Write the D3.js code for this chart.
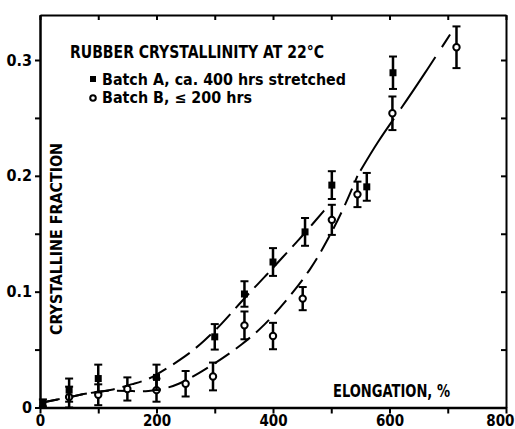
<!DOCTYPE html>
<html>
<head>
<meta charset="utf-8">
<script src="https://cdn.jsdelivr.net/npm/d3@7"></script>
<style>
  body { margin: 0; background: #fff; }
  svg text { font-family: "Liberation Sans Narrow", "DejaVu Sans Condensed", sans-serif; font-weight: bold; fill: #000; }
</style>
</head>
<body>
<script>
// Rubber crystallinity vs elongation

// Batch A (filled squares)
var elongA = [5, 50, 100, 200, 300, 351, 400, 455, 501, 561, 606];
var fracA  = [0.004, 0.015, 0.025, 0.026, 0.061, 0.098, 0.1256, 0.1516, 0.192, 0.1905, 0.289];
var errA   = [0.003, 0.010, 0.012, 0.011, 0.011, 0.011, 0.012, 0.012, 0.012, 0.012, 0.014];

// Batch B (open circles)
var elongB = [50, 100, 150, 200, 250, 297, 351, 400, 451, 501, 545, 605, 715];
var fracB  = [0.009, 0.011, 0.016, 0.015, 0.0205, 0.0268, 0.0709, 0.0617, 0.094, 0.162, 0.184, 0.254, 0.311];
var errB   = [0.009, 0.009, 0.010, 0.010, 0.011, 0.012, 0.012, 0.0114, 0.010, 0.013, 0.011, 0.0145, 0.018];

// hand drawn fit curves
var curveAx = [0, 37, 63, 92, 125, 160, 186, 212, 250, 280, 312, 343, 369, 392, 415, 445, 469, 491];
var curveAy = [0.004, 0.0075, 0.0104, 0.0132, 0.015, 0.0205, 0.024, 0.032, 0.044, 0.0565, 0.072, 0.09, 0.104, 0.116, 0.129, 0.145, 0.159, 0.172];
var curveBx = [0, 37, 63, 92, 125, 160, 186, 212, 237, 275, 312, 346, 386, 426, 466, 492, 520, 545, 580, 620, 660, 704];
var curveBy = [0.004, 0.0075, 0.0104, 0.0132, 0.015, 0.014, 0.014, 0.016, 0.0196, 0.03, 0.042, 0.054, 0.071, 0.094, 0.12, 0.143, 0.170, 0.200, 0.230, 0.258, 0.288, 0.322];

var xTicks = [0, 100, 200, 300, 400, 500, 600, 700, 800];
var yTicks = [0, 0.05, 0.1, 0.15, 0.2, 0.25, 0.3];

var svgWidth = 515, svgHeight = 429;
var margin = {top: 15, right: 9, bottom: 21.5, left: 40},
    width = svgWidth - margin.left - margin.right,
    height = svgHeight - margin.top - margin.bottom;

var svg = d3.select("body").append("svg").attr("width", svgWidth).attr("height", svgHeight);
var g = svg.append("g").attr("transform", `translate(${margin.left},${margin.top})`);

var x = d3.scaleLinear().domain([0, 800]).range([0, width]);
var yTop = 0.3 * height / (height - 45);
var y = d3.scaleLinear().domain([0, yTop]).range([height, 0]);

var fmtX = function(d) { return d % 200 === 0 ? d : ""; };
var fmtY = function(d) { return [0, 0.1, 0.2, 0.3].indexOf(d) >= 0 ? (d === 0 ? "0" : d3.format(".1f")(d)) : ""; };

function styleAxis(sel, w, fs) {
  sel.select(".domain").attr("stroke-width", w);
  sel.selectAll(".tick line").attr("stroke-width", 2);
  sel.selectAll(".tick text").attr("font-size", fs).attr("font-family", null).style("font-weight", "bold");
}

var xAxisG = g.append("g").attr("transform", `translate(0,${height})`)
  .call(d3.axisBottom(x).tickValues(xTicks).tickFormat(fmtX).tickSize(6).tickSizeOuter(0).tickPadding(2))
  .call(styleAxis, 2.5, "15px");
// last label sits on the window edge, keep it inside
xAxisG.selectAll(".tick text").filter(function(d) { return d === 800; })
  .attr("text-anchor", "end").attr("x", 8);

g.append("g")
  .call(d3.axisLeft(y).tickValues(yTicks).tickFormat(fmtY).tickSize(5).tickSizeOuter(0).tickPadding(3))
  .call(styleAxis, 2.5, "16px");

g.append("g")
  .call(d3.axisTop(x).tickValues(xTicks).tickFormat("").tickSize(-5).tickSizeOuter(0))
  .call(styleAxis, 2, "16px");

g.append("g").attr("transform", `translate(${width},0)`)
  .call(d3.axisRight(y).tickValues(yTicks).tickFormat("").tickSize(-5).tickSizeOuter(0))
  .call(styleAxis, 2, "16px");

// fitted dashed curves
var line = d3.line().x(function(d) { return x(d[0]); }).y(function(d) { return y(d[1]); }).curve(d3.curveBasis);
var ptsA = curveAx.map(function(v, i) { return [v, curveAy[i]]; });
var ptsB = curveBx.map(function(v, i) { return [v, curveBy[i]]; });

g.append("path").datum(ptsA).attr("d", line)
  .attr("fill", "none").attr("stroke", "#000").attr("stroke-width", 2).attr("stroke-dasharray", "20,8");
g.append("path").datum(ptsB.filter(function(d) { return d[0] <= 545; })).attr("d", line)
  .attr("fill", "none").attr("stroke", "#000").attr("stroke-width", 2).attr("stroke-dasharray", "18,8");
g.append("path").datum(ptsB.filter(function(d) { return d[0] >= 545; })).attr("d", line)
  .attr("fill", "none").attr("stroke", "#000").attr("stroke-width", 2).attr("stroke-dasharray", "62,12").attr("stroke-dashoffset", -6);

// error bars + markers
function drawSeries(xs, ys, es, filled) {
  var data = xs.map(function(v, i) { return {x: v, y: ys[i], e: es[i]}; });
  var grp = g.append("g").selectAll("g").data(data).enter().append("g");
  grp.append("line")
    .attr("x1", function(d) { return x(d.x); }).attr("x2", function(d) { return x(d.x); })
    .attr("y1", function(d) { return y(d.y - d.e); }).attr("y2", function(d) { return y(d.y + d.e); })
    .attr("stroke", "#000").attr("stroke-width", 2.5);
  [-1, 1].forEach(function(s) {
    grp.append("line")
      .attr("x1", function(d) { return x(d.x) - 4; }).attr("x2", function(d) { return x(d.x) + 4; })
      .attr("y1", function(d) { return y(d.y + s * d.e); }).attr("y2", function(d) { return y(d.y + s * d.e); })
      .attr("stroke", "#000").attr("stroke-width", 2);
  });
  if (filled) {
    grp.append("rect")
      .attr("x", function(d) { return x(d.x) - 3.5; }).attr("y", function(d) { return y(d.y) - 3.5; })
      .attr("width", 7).attr("height", 7).attr("fill", "#000");
  } else {
    grp.append("circle")
      .attr("cx", function(d) { return x(d.x); }).attr("cy", function(d) { return y(d.y); })
      .attr("r", 3.2).attr("fill", "#fff").attr("stroke", "#000").attr("stroke-width", 2);
  }
}
drawSeries(elongB, fracB, errB, false);
drawSeries(elongA, fracA, errA, true);

// title and legend
svg.append("text").attr("x", 70).attr("y", 58).attr("font-size", "18px")
  .attr("textLength", 254).attr("lengthAdjust", "spacingAndGlyphs")
  .text("RUBBER CRYSTALLINITY AT 22°C");

svg.append("rect").attr("x", 90).attr("y", 76).attr("width", 6).attr("height", 6).attr("fill", "#000");
svg.append("text").attr("x", 102).attr("y", 85).attr("font-size", "15px")
  .attr("textLength", 244).attr("lengthAdjust", "spacingAndGlyphs")
  .text("Batch A, ca. 400 hrs stretched");

svg.append("circle").attr("cx", 93).attr("cy", 98).attr("r", 2.8).attr("fill", "#fff").attr("stroke", "#000").attr("stroke-width", 2);
svg.append("text").attr("x", 102).attr("y", 103).attr("font-size", "15px")
  .attr("textLength", 150).attr("lengthAdjust", "spacingAndGlyphs")
  .text("Batch B, ≤ 200 hrs");

// axis titles
svg.append("text").attr("x", 333).attr("y", 397).attr("font-size", "17px")
  .attr("textLength", 117).attr("lengthAdjust", "spacingAndGlyphs")
  .text("ELONGATION, %");

svg.append("text").attr("text-anchor", "middle")
  .attr("transform", "translate(62,239)rotate(-90)").attr("font-size", "16px")
  .attr("textLength", 192).attr("lengthAdjust", "spacingAndGlyphs")
  .text("CRYSTALLINE FRACTION");
</script>
</body>
</html>
